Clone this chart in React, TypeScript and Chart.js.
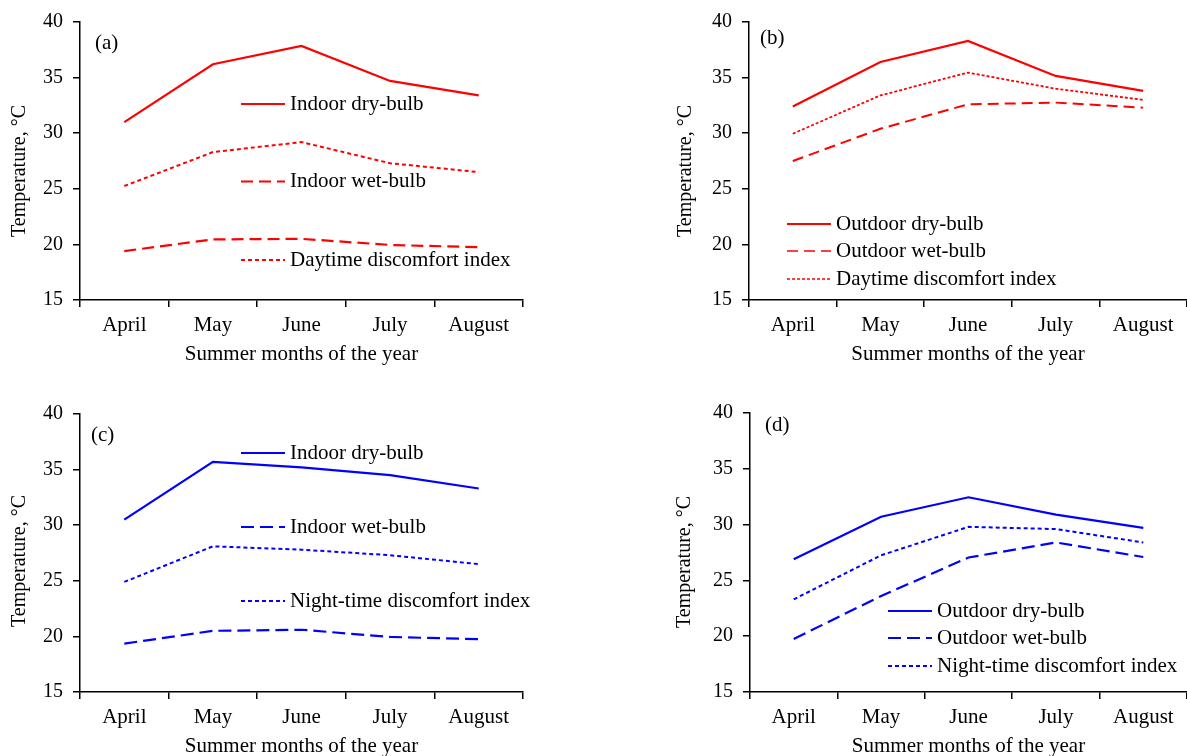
import React, { useEffect, useRef } from "react";
import { Chart, registerables } from "chart.js";

Chart.register(...registerables);

const months = ["April", "May", "June", "July", "August"];
const yTickValues = [15, 20, 25, 30, 35, 40];

// (a) daytime indoor
const indoorDryDay = [31.0, 36.2, 37.85, 34.7, 33.4];
const indoorWetDay = [19.4, 20.45, 20.5, 19.95, 19.75];
const indoorDIDay = [25.25, 28.3, 29.2, 27.3, 26.5];
// (b) daytime outdoor
const outdoorDryDay = [32.4, 36.4, 38.3, 35.15, 33.8];
const outdoorWetDay = [27.5, 30.4, 32.6, 32.75, 32.3];
const outdoorDIDay = [29.95, 33.4, 35.45, 34.0, 33.0];
// (c) night-time indoor
const indoorDryNight = [30.5, 35.7, 35.2, 34.5, 33.3];
const indoorWetNight = [19.35, 20.5, 20.6, 19.95, 19.75];
const indoorDINight = [24.9, 28.1, 27.8, 27.3, 26.5];
// (d) night-time outdoor
const outdoorDryNight = [26.9, 30.7, 32.45, 30.9, 29.7];
const outdoorWetNight = [19.75, 23.6, 27.05, 28.4, 27.1];
const outdoorDINight = [23.3, 27.25, 29.8, 29.6, 28.4];

const FONT = '"Liberation Serif", "Times New Roman", serif';
const RED = "rgb(255,0,0)";
const BLUE = "rgb(0,0,255)";

const decoPlugin = {
  id: "deco",
  afterDraw(chart: any, _args: any, opts: any) {
    const { ctx, chartArea } = chart;
    ctx.save();
    ctx.fillStyle = "#000";
    ctx.textBaseline = "middle";
    ctx.textAlign = "left";
    ctx.font = `21px ${FONT}`;
    ctx.fillText(opts.label, chartArea.left + opts.labelDx, chartArea.top + opts.labelDy);
    chart.data.datasets.forEach((ds: any, i: number) => {
      const y = chartArea.top + opts.rows[i];
      const x0 = chartArea.left + opts.legendDx;
      ctx.beginPath();
      ctx.setLineDash(ds.borderDash || []);
      ctx.lineWidth = opts.legendWidths[i];
      ctx.strokeStyle = ds.borderColor;
      ctx.moveTo(x0, y);
      ctx.lineTo(x0 + opts.sampleLen, y);
      ctx.stroke();
      ctx.setLineDash([]);
      ctx.fillStyle = "#000";
      ctx.fillText(ds.label, x0 + opts.sampleLen + 5, y);
    });
    ctx.translate(chartArea.left + opts.yTitleDx, chartArea.top + opts.yTitleDy);
    ctx.rotate(-Math.PI / 2);
    ctx.textAlign = "center";
    ctx.font = `20px ${FONT}`;
    ctx.fillText(opts.yTitle, 0, 0);
    ctx.restore();
  },
};

type PanelDef = {
  left: number;
  top: number;
  width: number;
  height: number;
  area: { left: number; top: number; right: number; bottom: number };
  color: string;
  series: { label: string; data: number[]; dash: number[]; width: number; legendWidth: number }[];
  deco: any;
};

const X_SCALE_H = 67;

function Panel({ def }: { def: PanelDef }) {
  const ref = useRef<HTMLCanvasElement | null>(null);
  useEffect(() => {
    if (!ref.current) return;
    const a = def.area;
    const chart = new Chart(ref.current, {
      type: "line",
      data: {
        labels: months,
        datasets: def.series.map((s) => ({
          label: s.label,
          data: s.data,
          borderColor: def.color,
          backgroundColor: def.color,
          borderWidth: s.width,
          borderDash: s.dash,
          pointRadius: 0,
          tension: 0,
          fill: false,
        })),
      },
      options: {
        responsive: false,
        animation: false,
        layout: {
          padding: {
            left: 0,
            top: a.top,
            right: def.width - a.right,
            bottom: def.height - a.bottom - X_SCALE_H,
          },
        },
        plugins: {
          legend: { display: false },
          tooltip: { enabled: false },
          deco: { ...def.deco, legendWidths: def.series.map((s) => s.legendWidth) },
        } as any,
        scales: {
          x: {
            type: "category",
            offset: true,
            grid: {
              offset: true,
              drawOnChartArea: false,
              drawTicks: true,
              tickLength: 7,
              color: "#000",
              lineWidth: 1.5,
            },
            border: { display: true, color: "#000", width: 1.5 },
            ticks: {
              color: "#000",
              font: { family: FONT, size: 21 },
              padding: 6,
              maxRotation: 0,
              autoSkip: false,
            },
            title: {
              display: true,
              text: "Summer months of the year",
              color: "#000",
              font: { family: FONT, size: 21 },
              padding: { top: 0, bottom: 0 },
            },
            afterFit: (scale: any) => {
              scale.height = X_SCALE_H;
            },
          },
          y: {
            min: yTickValues[0],
            max: yTickValues[yTickValues.length - 1],
            grid: {
              drawOnChartArea: false,
              drawTicks: true,
              tickLength: 7,
              color: "#000",
              lineWidth: 1.5,
            },
            border: { display: true, color: "#000", width: 1.5 },
            ticks: {
              stepSize: yTickValues[1] - yTickValues[0],
              color: "#000",
              font: { family: FONT, size: 20 },
              padding: 10,
            },
            afterFit: (scale: any) => {
              scale.width = a.left;
            },
          },
        },
      } as any,
      plugins: [decoPlugin],
    });
    return () => chart.destroy();
  }, [def]);
  return (
    <canvas
      ref={ref}
      width={def.width}
      height={def.height}
      style={{ position: "absolute", left: def.left, top: def.top, width: def.width, height: def.height }}
    />
  );
}

const DASH_A = [12, 6];
const DOT_A = [4, 3];

const panels: PanelDef[] = [
  {
    left: 0,
    top: 0,
    width: 593,
    height: 378,
    area: { left: 80, top: 22, right: 523, bottom: 300 },
    color: RED,
    series: [
      { label: "Indoor dry-bulb", data: indoorDryDay, dash: [], width: 2.2, legendWidth: 2.2 },
      { label: "Indoor wet-bulb", data: indoorWetDay, dash: DASH_A, width: 2.2, legendWidth: 2.2 },
      { label: "Daytime discomfort index", data: indoorDIDay, dash: DOT_A, width: 2, legendWidth: 2 },
    ],
    deco: {
      label: "(a)", labelDx: 15, labelDy: 21,
      legendDx: 161, sampleLen: 44, rows: [82, 159.5, 238],
      yTitle: "Temperature, °C", yTitleDx: -60, yTitleDy: 149,
    },
  },
  {
    left: 593,
    top: 0,
    width: 594,
    height: 378,
    area: { left: 156, top: 22, right: 594, bottom: 300 },
    color: RED,
    series: [
      { label: "Outdoor dry-bulb", data: outdoorDryDay, dash: [], width: 2.2, legendWidth: 2.2 },
      { label: "Outdoor wet-bulb", data: outdoorWetDay, dash: [11, 6], width: 2, legendWidth: 1.5 },
      { label: "Daytime discomfort index", data: outdoorDIDay, dash: [3, 2], width: 1.8, legendWidth: 1.3 },
    ],
    deco: {
      label: "(b)", labelDx: 11, labelDy: 16,
      legendDx: 38, sampleLen: 44, rows: [202, 229, 257],
      yTitle: "Temperature, °C", yTitleDx: -63, yTitleDy: 149,
    },
  },
  {
    left: 0,
    top: 378,
    width: 593,
    height: 400,
    area: { left: 80, top: 36, right: 523, bottom: 314 },
    color: BLUE,
    series: [
      { label: "Indoor dry-bulb", data: indoorDryNight, dash: [], width: 2.2, legendWidth: 2.2 },
      { label: "Indoor wet-bulb", data: indoorWetNight, dash: [13, 6], width: 2.2, legendWidth: 2.2 },
      { label: "Night-time discomfort index", data: indoorDINight, dash: DOT_A, width: 2, legendWidth: 2 },
    ],
    deco: {
      label: "(c)", labelDx: 11, labelDy: 21,
      legendDx: 161, sampleLen: 44, rows: [39, 113, 187],
      yTitle: "Temperature, °C", yTitleDx: -60, yTitleDy: 147,
    },
  },
  {
    left: 593,
    top: 378,
    width: 594,
    height: 400,
    area: { left: 157, top: 35, right: 594, bottom: 314 },
    color: BLUE,
    series: [
      { label: "Outdoor dry-bulb", data: outdoorDryNight, dash: [], width: 2.2, legendWidth: 2.2 },
      { label: "Outdoor wet-bulb", data: outdoorWetNight, dash: [13, 6], width: 2.2, legendWidth: 2.2 },
      { label: "Night-time discomfort index", data: outdoorDINight, dash: DOT_A, width: 2, legendWidth: 2 },
    ],
    deco: {
      label: "(d)", labelDx: 15, labelDy: 12,
      legendDx: 138, sampleLen: 44, rows: [198, 225, 253],
      yTitle: "Temperature, °C", yTitleDx: -65, yTitleDy: 149,
    },
  },
];

export default function App() {
  return (
    <div
      style={{
        position: "fixed",
        left: 0,
        top: 0,
        width: 1187,
        height: 756,
        overflow: "hidden",
        background: "#fff",
      }}
    >
      {panels.map((p, i) => (
        <Panel key={i} def={p} />
      ))}
    </div>
  );
}
